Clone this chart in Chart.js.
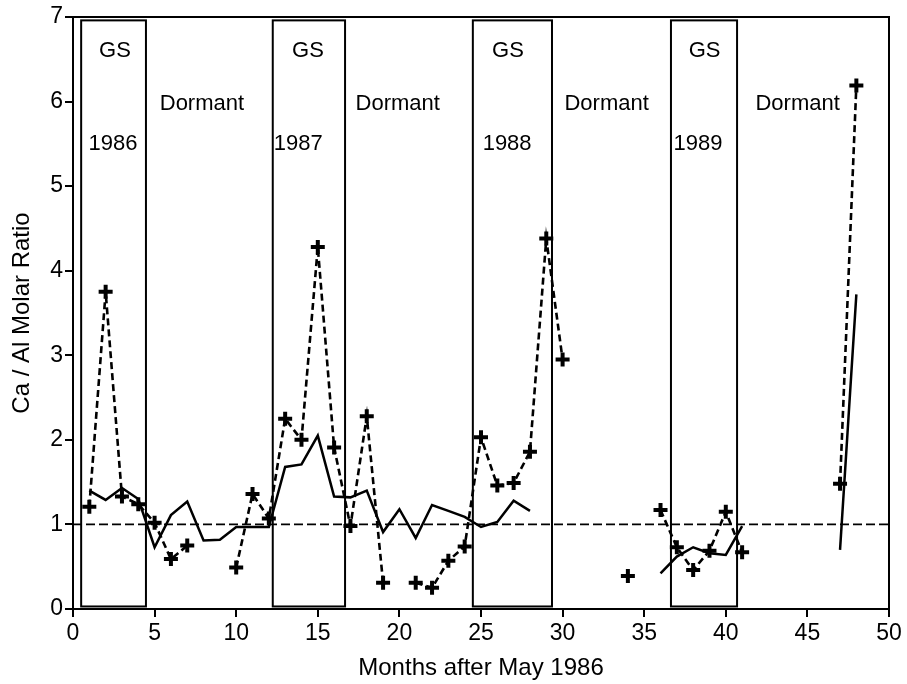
<!DOCTYPE html>
<html>
<head>
<meta charset="utf-8">
<script src="https://cdn.jsdelivr.net/npm/chart.js@4/dist/chart.umd.min.js"></script>
<style>
  html, body { margin: 0; padding: 0; background: #fff; }
  #wrap { width: 907px; height: 684px; }
</style>
</head>
<body>
<div id="wrap"><canvas id="c" width="907" height="684"></canvas></div>
<script>
// ---- Data ----
const months = [1,2,3,4,5,6,7,8,9,10,11,12,13,14,15,16,17,18,19,20,21,22,23,24,25,26,27,28,29,30,31,32,33,34,35,36,37,38,39,40,41,42,43,44,45,46,47,48];
// dashed series with "+" markers
const dashedRatio = [1.21,3.75,1.33,1.24,1.02,0.59,0.75,null,null,0.49,1.36,1.07,2.25,2.00,4.28,1.91,0.98,2.28,0.31,null,0.31,0.25,0.57,0.74,2.03,1.46,1.49,1.86,4.38,2.95,null,null,null,0.39,null,1.17,0.73,0.46,0.69,1.15,0.67,null,null,null,null,null,1.48,6.19];
// solid series
const solidRatio = [1.40,1.29,1.43,1.30,0.73,1.11,1.27,0.81,0.82,0.97,0.97,0.97,1.68,1.71,2.05,1.33,1.32,1.40,0.91,1.18,0.84,1.23,1.16,1.09,0.97,1.03,1.28,1.16,null,null,null,null,null,null,null,0.42,0.62,0.73,0.66,0.64,0.98,null,null,null,null,null,0.70,3.72];
// reference ratio line
const refMonths = [0, 50];
const refRatio = [1, 1];
// growing seasons (months after May 1986)
const seasonStart = [0.5, 12.24, 24.5, 36.64];
const seasonEnd   = [4.47, 16.67, 29.35, 40.69];
const seasonYears = ['1986', '1987', '1988', '1989'];
const gsLabelMonth = [2.57, 14.4, 26.65, 38.7];
const yearLabelMonth = [2.45, 13.8, 26.6, 38.3];
const dormantLabelMonth = [7.9, 19.9, 32.7, 44.4];
const xTicks = [0,5,10,15,20,25,30,35,40,45,50];
const yTicks = [0,1,2,3,4,5,6,7];

const FONT = '"Liberation Sans", Arial, Helvetica, sans-serif';

const pts = (xs, ys) => xs.map((x, i) => ({ x: x, y: ys[i] }));

const framePlugin = {
  id: 'frame',
  afterDatasetsDraw(chart) {
    const { ctx, chartArea: a, scales: { x, y } } = chart;
    ctx.save();
    ctx.strokeStyle = '#000';
    ctx.lineWidth = 2;
    // top & right frame
    ctx.beginPath();
    ctx.moveTo(a.left, a.top);
    ctx.lineTo(a.right, a.top);
    ctx.lineTo(a.right, a.bottom);
    ctx.stroke();
    // growing-season boxes
    const yTop = y.getPixelForValue(6.96);
    const yBot = y.getPixelForValue(0.03);
    seasonStart.forEach((s, i) => {
      const x0 = x.getPixelForValue(s);
      const x1 = x.getPixelForValue(seasonEnd[i]);
      ctx.strokeRect(x0, yTop, x1 - x0, yBot - yTop);
    });
    // labels
    ctx.fillStyle = '#000';
    ctx.font = '22px ' + FONT;
    ctx.textAlign = 'center';
    ctx.textBaseline = 'middle';
    gsLabelMonth.forEach((m) => ctx.fillText('GS', x.getPixelForValue(m), y.getPixelForValue(6.6)));
    yearLabelMonth.forEach((m, i) => ctx.fillText(seasonYears[i], x.getPixelForValue(m), y.getPixelForValue(5.5)));
    dormantLabelMonth.forEach((m) => ctx.fillText('Dormant', x.getPixelForValue(m), y.getPixelForValue(5.97)));
    ctx.restore();
  }
};

new Chart(document.getElementById('c'), {
  type: 'line',
  data: {
    datasets: [
      {
        label: 'reference',
        data: pts(refMonths, refRatio),
        borderColor: '#000',
        borderWidth: 1.8,
        borderDash: [9, 4],
        pointRadius: 0,
        fill: false
      },
      {
        label: 'solid',
        data: pts(months, solidRatio),
        borderColor: '#000',
        borderWidth: 2.5,
        pointRadius: 0,
        tension: 0,
        spanGaps: false,
        fill: false
      },
      {
        label: 'dashed',
        data: pts(months, dashedRatio),
        borderColor: '#000',
        borderWidth: 2.6,
        borderDash: [7, 4],
        pointStyle: 'cross',
        pointRadius: 7,
        pointBorderWidth: 4,
        pointBorderColor: '#000',
        pointBackgroundColor: '#000',
        tension: 0,
        spanGaps: false,
        fill: false
      }
    ]
  },
  options: {
    responsive: false,
    animation: false,
    events: [],
    layout: { padding: { top: 17, right: 18, left: 0, bottom: 0 } },
    plugins: { legend: { display: false }, tooltip: { enabled: false } },
    scales: {
      x: {
        type: 'linear',
        min: 0, max: 50,
        afterFit(s) { s.height = 75; },
        afterBuildTicks(s) { s.ticks = xTicks.map(v => ({ value: v })); },
        grid: { drawOnChartArea: false, drawTicks: true, tickLength: 8, color: '#000', lineWidth: 2 },
        border: { display: true, color: '#000', width: 2 },
        ticks: { color: '#000', font: { family: FONT, size: 23 }, padding: 3, maxRotation: 0, autoSkip: false },
        title: { display: true, text: 'Months after May 1986', color: '#000', font: { family: FONT, size: 24 }, padding: { top: 0, bottom: 1 } }
      },
      y: {
        min: 0, max: 7,
        afterFit(s) { s.width = 73; },
        afterBuildTicks(s) { s.ticks = yTicks.map(v => ({ value: v })); },
        grid: { drawOnChartArea: false, drawTicks: true, tickLength: 8, color: '#000', lineWidth: 2 },
        border: { display: true, color: '#000', width: 2 },
        ticks: { color: '#000', font: { family: FONT, size: 23 }, padding: 2, autoSkip: false },
        title: { display: true, text: 'Ca / Al Molar Ratio', color: '#000', font: { family: FONT, size: 24 }, padding: { top: 8, bottom: 0 } }
      }
    }
  },
  plugins: [framePlugin]
});
</script>
</body>
</html>
